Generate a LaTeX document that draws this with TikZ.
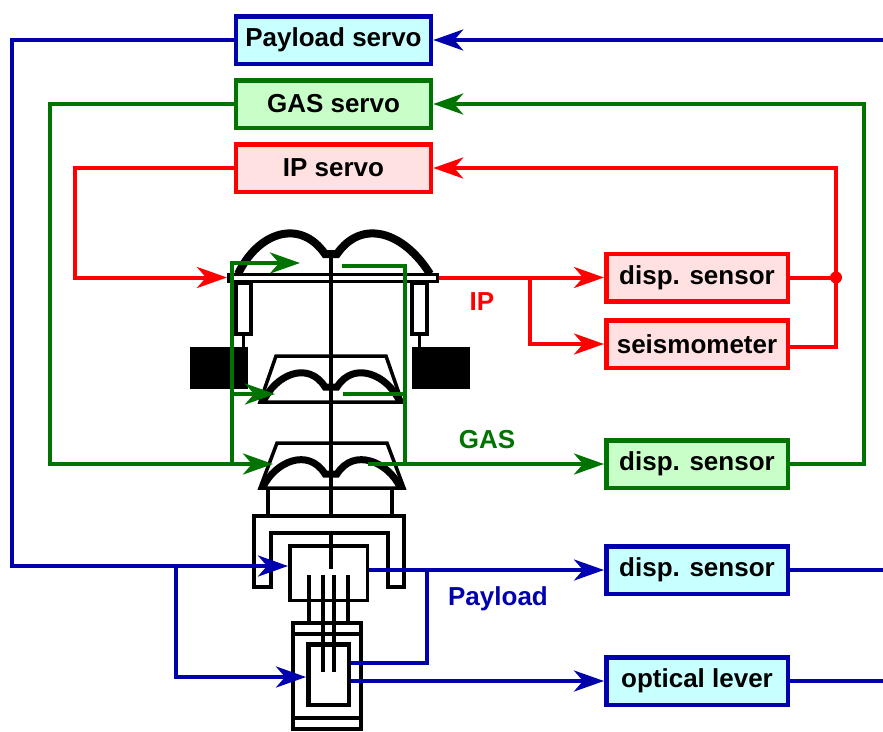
\documentclass[tikz,border=0pt]{standalone}
\usepackage{fontspec}
\setmainfont{Liberation Sans}
\usetikzlibrary{arrows.meta,calc}
\definecolor{cblue}{RGB}{0,0,175}
\definecolor{cgreen}{RGB}{0,115,0}
\definecolor{cred}{RGB}{255,0,0}
\definecolor{fcyan}{RGB}{200,255,255}
\definecolor{fgreen}{RGB}{200,255,200}
\definecolor{fpink}{RGB}{255,225,225}
\begin{document}
\begin{tikzpicture}[x=1pt,y=-1pt,
  box/.style={draw, line width=4.5pt, inner sep=0pt, font=\fontsize{26}{30}\selectfont\bfseries},
  bluebox/.style={box, draw=cblue, fill=fcyan},
  greenbox/.style={box, draw=cgreen, fill=fgreen},
  redbox/.style={box, draw=cred, fill=fpink},
  srv/.style={minimum width=195pt, minimum height=47.5pt},
  sen/.style={minimum width=181.5pt, minimum height=47.5pt},
  arr/.style={-{Stealth[length=30pt,width=21pt,inset=9pt]}},
  bline/.style={line width=4pt, cblue},
  gline/.style={line width=4pt, cgreen},
  rline/.style={line width=4pt, cred},
  mech/.style={line width=3.5pt, black},
  blade/.style={line width=7pt, black},
  lbl/.style={inner sep=0pt, font=\fontsize{26}{30}\selectfont\bfseries}
]
\useasboundingbox (0,0) rectangle (883,731);

% ---------- servo boxes ----------
\node[bluebox,srv] (ps) at (333.5,40) {Payload servo};
\node[greenbox,srv] (gs) at (333.5,104) {GAS servo};
\node[redbox,srv] (ips) at (333.5,168) {IP servo};

% ---------- sensor boxes ----------
\node[redbox,sen] (dIP) at (697,277.5) {disp. sensor};
\node[redbox,sen] (seis) at (697,344) {seismometer};
\node[greenbox,sen] (dGAS) at (697,464) {disp. sensor};
\node[bluebox,sen] (dPL) at (697,570) {disp. sensor};
\node[bluebox,sen] (ol) at (697,681) {optical lever};

% ---------- mechanical drawing ----------
\node[draw, line width=3pt, fill=white, minimum width=209pt, minimum height=7pt, inner sep=0pt] (plat) at (333,277.5) {};
\draw[mech, fill=white] (236,283) rectangle (251,334);
\draw[mech, fill=white] (412,283) rectangle (427,334);
\draw[mech] (243.5,334) -- (243.5,347);
\draw[mech] (419.5,334) -- (419.5,347);
\fill[black] (190,347) rectangle (248,389);
\fill[black] (412,347) rectangle (470,389);
\draw[mech] (331,254) -- (331,517);
\draw[mech] (276,356) -- (386,356) -- (402,402) -- (260,402) -- cycle;
\draw[mech] (277,443) -- (387,443) -- (404,488) -- (260,488) -- cycle;
% blades
\draw[line width=8pt] (238,274) .. controls (258,232) and (300,218) .. (325,254) -- (337,254) .. controls (362,218) and (404,232) .. (430,274);
\draw[blade] (263,402) .. controls (275,375) and (308,360) .. (325,387) -- (337,387) .. controls (354,360) and (388,375) .. (400,402);
\draw[blade] (263,487) .. controls (275,462) and (308,447) .. (325,474) -- (337,474) .. controls (354,447) and (388,462) .. (400,487);
\draw[mech] (268,488) -- (268,516);
\draw[mech] (392,488) -- (392,516);
% payload frame
\draw[mech] (254,587) -- (254,516) -- (404,516) -- (404,587) -- (388,587) -- (388,533) -- (271,533) -- (271,587) -- cycle;
\node[draw, line width=3.5pt, fill=white, minimum width=77.5pt, minimum height=54.5pt, inner sep=0pt] (ub) at (328.5,573) {};
\draw[mech] (331,533) -- (331,569);
\draw[mech, fill=white] (293,623) rectangle (361,729);
\draw[mech] (293,634) -- (361,634);
\draw[mech] (293,718) -- (361,718);
\node[draw, line width=4.5pt, fill=white, minimum width=40.5pt, minimum height=60.5pt, inner sep=0pt] (mb) at (328.5,674.5) {};
\draw[mech] (309,575) -- (309,623);
\draw[mech] (348,575) -- (348,623);
\draw[mech] (323,575) -- (323,672);
\draw[mech] (334,575) -- (334,672);

% ---------- coordinates ----------
\coordinate (gTopIn) at (300,263);
\coordinate (gMidIn) at (275,394);
\coordinate (gLowIn) at (273,464);
\coordinate (gTopOut) at (342,266);
\coordinate (gMidOut) at (343,394);
\coordinate (gLowOut) at (368,464);
\coordinate (gLbend) at (50,464);
\coordinate (gVbot) at (232,464);
\coordinate (gVmid) at (232,394);
\coordinate (gRbend) at (405,464);
\coordinate (gRmid) at (405,394);
\coordinate (gFar) at (864,104);

\coordinate (bIn) at (883,40);
\coordinate (bL) at (12,566);
\coordinate (bBr) at (176,566);
\coordinate (bBr2) at (427,570);
\coordinate (bR1) at (883,570);
\coordinate (bR2) at (883,681);

\coordinate (rL) at (75,277.5);
\coordinate (rBr) at (530,277.5);
\coordinate (rDot) at (836,277.5);

% ---------- IP loop ----------
\draw[rline,arr] (ips.west) -| (rL) -- (plat.west);
\draw[rline,arr] (plat.east) -- (dIP.west);
\draw[rline,arr] (rBr) |- (seis.west);
\draw[rline,arr] (dIP.east) -- (rDot) |- (ips.east);
\draw[rline] ([yshift=-3pt]seis.east) -| (rDot);
\fill[cred] (rDot) circle (6pt);

% ---------- GAS loop ----------
\draw[gline,arr] (gs.west) -| (gLbend) -- (gLowIn);
\draw[gline,arr] (gVbot) |- (gTopIn);
\draw[gline,arr] (gVmid) -- (gMidIn);
\draw[gline] (gTopOut) -| (gRbend);
\draw[gline] (gMidOut) -- (gRmid);
\draw[gline,arr] (gLowOut) -- (dGAS.west);
\draw[gline,arr] (dGAS.east) -| (gFar) -- (gs.east);

% ---------- Payload loop ----------
\draw[bline,arr] (bIn) -- (ps.east);
\draw[bline,arr] (ps.west) -| (bL) -- ([yshift=7pt]ub.west);
\draw[bline,arr] (bBr) |- ([yshift=-2.5pt]mb.west);
\draw[bline,arr] ([yshift=3pt]ub.east) -- (dPL.west);
\draw[bline] (bBr2) |- ([yshift=11.5pt]mb.east);
\draw[bline,arr] ([yshift=-6.5pt]mb.east) -- (ol.west);
\draw[bline] (dPL.east) -- (bR1);
\draw[bline] (ol.east) -- (bR2);

% ---------- labels ----------
\node[lbl, text=cred, anchor=base] (lIP) at (482,310) {IP};
\node[lbl, text=cgreen, anchor=base] (lGAS) at (487,448) {GAS};
\node[lbl, text=cblue, anchor=base] (lPL) at (498,605) {Payload};
\end{tikzpicture}
\end{document}
